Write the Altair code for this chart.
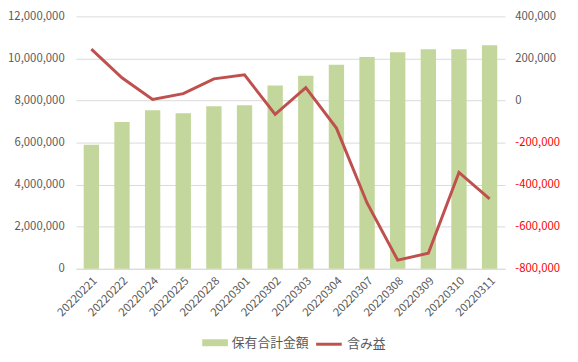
import altair as alt
import pandas as pd

dates = ["20220221", "20220222", "20220224", "20220225", "20220228", "20220301",
         "20220302", "20220303", "20220304", "20220307", "20220308", "20220309",
         "20220310", "20220311"]
holdings = [5900000, 6980000, 7540000, 7400000, 7730000, 7780000, 8710000,
            9180000, 9700000, 10070000, 10300000, 10440000, 10440000, 10630000]
unrealized = [244000, 108000, 5000, 33000, 103000, 122000, -66000,
              61000, -131000, -487000, -759000, -726000, -342000, -468000]

bar_name = "保有合計金額"
line_name = "含み益"

df = pd.DataFrame({"date": dates, "holdings": holdings, "unrealized": unrealized,
                   "s1": bar_name, "s2": line_name})

FONT = "Noto Sans CJK JP"
GRAY = "#595959"

base = alt.Chart(df).encode(
    x=alt.X("date:N", sort=None, title=None,
            scale=alt.Scale(paddingInner=0.5, paddingOuter=0.25),
            axis=alt.Axis(labelAngle=-45, labelColor=GRAY, labelFontSize=11.5, labelFont=FONT,
                          ticks=False, domainColor="#d9d9d9", labelPadding=6, grid=False))
)

bars = base.mark_bar().encode(
    y=alt.Y("holdings:Q", title=None,
            scale=alt.Scale(domain=[0, 12000000], nice=False),
            axis=alt.Axis(values=list(range(0, 12000001, 2000000)), format=",.0f",
                          labelColor=GRAY, labelFontSize=11.5, labelFont=FONT,
                          ticks=False, domain=False, labelPadding=12,
                          gridColor="#d9d9d9")),
    fill=alt.Fill("s1:N", scale=alt.Scale(domain=[bar_name], range=["#c3d69b"]),
                  legend=alt.Legend(title=None, orient="none", legendX=128, legendY=318,
                                    symbolType="M-1,-0.27H1V0.27H-1Z", symbolSize=676,
                                    symbolStrokeWidth=0,
                                    labelFont=FONT, labelFontSize=13, labelColor=GRAY)),
)

line = base.mark_line(strokeWidth=3).encode(
    y=alt.Y("unrealized:Q", title=None,
            scale=alt.Scale(domain=[-800000, 400000], nice=False),
            axis=alt.Axis(orient="right", values=list(range(-800000, 400001, 200000)),
                          labelExpr="replace(format(datum.value, ',.0f'), '\u2212', '-')",
                          labelColor={"expr": "datum.value < 0 ? '#ff0000' : '#595959'"},
                          labelFontSize=11.5, labelFont=FONT,
                          ticks=False, domain=False, grid=False, labelPadding=10)),
    stroke=alt.Stroke("s2:N", scale=alt.Scale(domain=[line_name], range=["#c0504d"]),
                      legend=alt.Legend(title=None, orient="none", legendX=242, legendY=318,
                                        symbolType="stroke", symbolSize=676, symbolStrokeWidth=3,
                                        labelFont=FONT, labelFontSize=13, labelColor=GRAY)),
)

chart = alt.layer(bars, line).resolve_scale(
    y="independent", fill="independent", stroke="independent"
).properties(
    width=435, height=256,
    autosize=alt.AutoSizeParams(type="none"),
    padding={"left": 69, "top": 6, "right": 66, "bottom": 90},
).configure_view(stroke=None)

chart.save("out.html", embed_options={"renderer": "svg", "actions": False})
